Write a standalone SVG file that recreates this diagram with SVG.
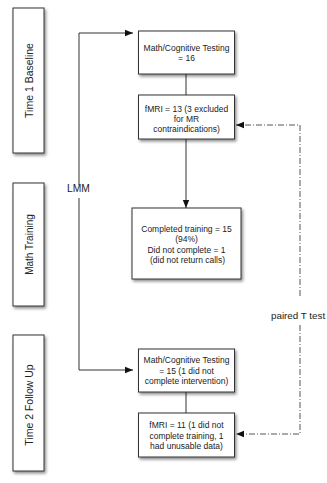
<svg xmlns="http://www.w3.org/2000/svg" width="327" height="483" viewBox="0 0 327 483">
<defs>
<filter id="sh" x="-20%" y="-20%" width="150%" height="150%">
<feDropShadow dx="1.5" dy="2" stdDeviation="1.5" flood-color="#000" flood-opacity="0.45"/>
</filter>
<marker id="ah" markerUnits="userSpaceOnUse" markerWidth="8" markerHeight="8" viewBox="0 0 8 8" refX="8" refY="4" orient="auto">
<path d="M0,0.8 L8,4 L0,7.2 Z" fill="#111"/>
</marker>
<style>
.box{fill:#fff;stroke:#333;stroke-width:1;filter:url(#sh)}
.t{font-family:"Liberation Sans",Arial,sans-serif;font-size:8.5px;fill:#222;text-anchor:middle}
.lab{font-family:"Liberation Sans",Arial,sans-serif;font-size:10.5px;fill:#222;text-anchor:middle}
.cl{font-family:"Liberation Sans",Arial,sans-serif;font-size:10.3px;fill:#222}
.ln{fill:none;stroke:#333;stroke-width:1}
.dd{fill:none;stroke:#555;stroke-width:1;stroke-dasharray:6 2 1 2}
</style>
</defs>
<g id="phase1"><rect class="box" x="13" y="8" width="31" height="145"/><text class="lab" transform="translate(32.8,80.5) rotate(-90)">Time 1 Baseline</text></g>
<g id="phase2"><rect class="box" x="13" y="183" width="31" height="123"/><text class="lab" transform="translate(32.8,244.5) rotate(-90)" style="font-size:10px">Math Training</text></g>
<g id="phase3"><rect class="box" x="13" y="335" width="31" height="136"/><text class="lab" transform="translate(32.8,405) rotate(-90)">Time 2 Follow Up</text></g>
<g id="connectors">
<path class="ln" d="M186,74 V95"/>
<path class="ln" d="M186,139 V208" marker-end="url(#ah)"/>
<path class="ln" d="M186,392 V413"/>
<path class="ln" d="M79,185 V33 H133" marker-end="url(#ah)"/>
<path class="ln" d="M79,198 V370 H133" marker-end="url(#ah)"/>
<path class="dd" d="M300,296 V125 H236" marker-end="url(#ah)"/>
<path class="dd" d="M300,325 V434 H236" marker-end="url(#ah)"/>
<text class="cl" x="78.5" y="191.5" text-anchor="middle">LMM</text>
<text class="cl" x="271" y="318.5" style="font-size:9.8px">paired T test</text>
</g>
<g id="n1"><rect class="box" x="138.5" y="31" width="96" height="43"/><text class="t" x="186.5" y="51.3">Math/Cognitive Testing</text><text class="t" x="186.5" y="61.3">= 16</text></g>
<g id="n2"><rect class="box" x="138.5" y="95" width="96" height="44"/><text class="t" x="186.5" y="112">fMRI = 13 (3 excluded</text><text class="t" x="186.5" y="122">for MR</text><text class="t" x="186.5" y="132">contraindications)</text></g>
<g id="n3"><rect class="box" x="132" y="208" width="109" height="71"/><text class="t" x="186.5" y="232">Completed training = 15</text><text class="t" x="186.5" y="242.3">(94%)</text><text class="t" x="186.5" y="252.5">Did not complete = 1</text><text class="t" x="187.5" y="262.7">(did not return calls)</text></g>
<g id="n4"><rect class="box" x="138.5" y="349" width="96" height="43"/><text class="t" x="186.5" y="363">Math/Cognitive Testing</text><text class="t" x="186.5" y="373.5">= 15 (1 did not</text><text class="t" x="186.5" y="384">complete intervention)</text></g>
<g id="n5"><rect class="box" x="138.5" y="413" width="96" height="44"/><text class="t" x="186.5" y="428">fMRI = 11 (1 did not</text><text class="t" x="186.5" y="438.5">complete training, 1</text><text class="t" x="186.5" y="449">had unusable data)</text></g>
</svg>
